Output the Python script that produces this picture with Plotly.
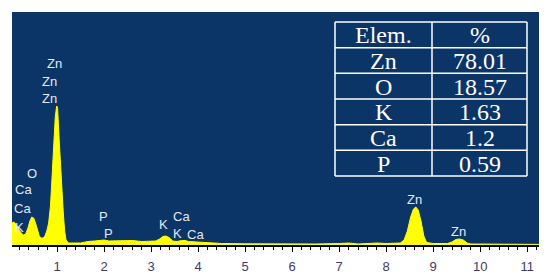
import plotly.graph_objects as go

# Spectrum (energy keV, intensity a.u.)
energy = [0.04, 0.08, 0.12, 0.17, 0.22, 0.28, 0.33, 0.38, 0.42, 0.46, 0.50, 0.54, 0.58, 0.62, 0.66,
          0.70, 0.74, 0.78, 0.82, 0.86, 0.90, 0.93, 0.96, 0.99, 1.01, 1.04, 1.07, 1.10, 1.13, 1.16,
          1.19, 1.22, 1.25, 1.5, 1.65, 1.8, 2.0, 2.1, 2.4, 2.6, 2.8, 3.0, 3.1, 3.18, 3.25, 3.31, 3.38,
          3.46, 3.55, 3.65, 3.72, 3.8, 4.0, 4.2, 4.5, 5.0, 5.5, 6.0, 6.5, 7.0, 7.2, 7.4, 7.6, 7.8,
          8.0, 8.2, 8.3, 8.38, 8.45, 8.52, 8.58, 8.63, 8.68, 8.74, 8.80, 8.86, 9.0, 9.3, 9.4, 9.48,
          9.56, 9.64, 9.72, 9.8, 10.5, 11.25]
counts = [22, 23, 21, 17, 13, 10, 11, 17, 24, 28, 27, 22, 14, 9, 7,
          7, 9, 14, 22, 40, 75, 105, 128, 139, 137, 108, 78, 52, 33, 14,
          5, 3, 2, 2, 3.5, 4, 5, 4, 4, 4.5, 3.5, 4, 4, 6, 8.5, 9, 7.5,
          4, 3.5, 4.5, 4.5, 3.5, 3, 2, 1.5, 1.2, 1, 1, 1, 1.5, 2, 1, 1.5, 2,
          1.5, 1.5, 2, 5, 14, 28, 36, 38, 35, 24, 9, 2.5, 1.5, 1.5, 3, 5.5,
          6, 5, 2, 1, 0.8, 0.6]

# Peak labels
label_text = ["Zn", "Zn", "Zn", "O", "Ca", "Ca", "K", "P", "P", "K", "Ca", "K", "Ca", "Zn", "Zn"]
label_energy = [0.936, 0.83, 0.83, 0.47, 0.28, 0.255, 0.19, 1.98, 2.085, 3.255, 3.64, 3.55, 3.935, 8.596, 9.53]
label_level = [182, 164, 146.5, 72, 56, 37, 18, 29, 12, 21, 29, 12, 11, 46, 14]

# Composition table
table_header = ["Elem.", "%"]
elements = ["Zn", "O", "K", "Ca", "P"]
percent = ["78.01", "18.57", "1.63", "1.2", "0.59"]

tick_vals = list(range(1, 12))

BG = "#0B3467"

# page offset (body margin 8px) handled through figure size/margins
W, H = 542, 271
ML, MR, MT, MB = 4, 11, 4, 34
PW, PH = W - ML - MR, H - MT - MB


def px_x(px):  # page pixel -> paper x
    return (px - 8 - ML) / PW


def px_y(py):  # page pixel -> paper y
    return (H + 8 - MB - py) / PH


fig = go.Figure()
fig.add_trace(go.Scatter(x=energy, y=counts, mode="lines", fill="tozeroy",
                         line=dict(color="#FFFF00", width=1), fillcolor="#FFFF00",
                         hoverinfo="skip", showlegend=False))

for t, e, lv in zip(label_text, label_energy, label_level):
    fig.add_annotation(x=e, y=lv, text=t, showarrow=False, xref="x", yref="y",
                       font=dict(family="Liberation Sans", size=13, color="#E6E8F0"))

# Table drawn with shapes + annotations
t_left, t_mid, t_right, t_top, t_row = 335, 432, 527, 22, 25.67
rows = [table_header] + [[e, p] for e, p in zip(elements, percent)]
n = len(rows)
lw = 1.5
for i in range(n + 1):
    yy = px_y(t_top + i * t_row)
    fig.add_shape(type="line", xref="paper", yref="paper", x0=px_x(t_left), x1=px_x(t_right),
                  y0=yy, y1=yy, line=dict(color="white", width=lw))
for xx in (t_left, t_mid, t_right):
    fig.add_shape(type="line", xref="paper", yref="paper", x0=px_x(xx), x1=px_x(xx),
                  y0=px_y(t_top), y1=px_y(t_top + n * t_row), line=dict(color="white", width=lw))
for i, row in enumerate(rows):
    yc = px_y(t_top + (i + 0.5) * t_row + 0.5)
    for j, txt in enumerate(row):
        xc = px_x((t_left + t_mid) / 2 if j == 0 else (t_mid + t_right) / 2)
        fig.add_annotation(x=xc, y=yc, xref="paper", yref="paper", text=txt, showarrow=False,
                           xanchor="center", yanchor="middle",
                           font=dict(family="Liberation Serif", size=24, color="white"))

fig.update_layout(
    width=W, height=H,
    margin=dict(l=ML, r=MR, t=MT, b=MB, autoexpand=False),
    paper_bgcolor="white", plot_bgcolor=BG,
    xaxis=dict(range=[0.04, 11.25], tickvals=tick_vals, ticks="outside", ticklen=5, tickwidth=1,
               tickcolor="black", showline=True, linecolor="black", linewidth=2, showgrid=False,
               zeroline=False, tickfont=dict(family="Liberation Sans", size=13, color="#3B3B6B"),
               minor=dict(dtick=0.2, ticks="outside", ticklen=3, tickcolor="black", showgrid=False),
               ticklabelstandoff=3),
    yaxis=dict(range=[0, 233], visible=False, showgrid=False, zeroline=False),
)

fig.write_html("out.html")
